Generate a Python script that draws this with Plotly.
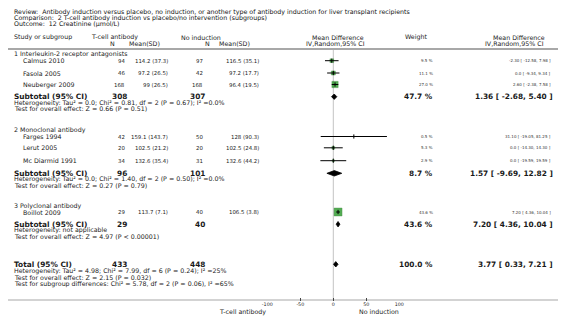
import plotly.graph_objects as go
import numpy as np

W, H = 566, 324
OFF = 8  # page body margin offset in the browser
FONT = "DejaVu Sans"

# ---------------- data ----------------
title_lines = [
    "Review:  Antibody induction versus placebo, no induction, or another type of antibody induction for liver transplant recipients",
    "Comparison:  2 T-cell antibody induction vs placebo/no intervention (subgroups)",
    "Outcome:  12 Creatinine (\u03bcmol/L)",
]
group_names = ["1 Interleukin-2 receptor antagonists", "2 Monoclonal antibody", "3 Polyclonal antibody"]
studies = ["Calmus 2010", "Fasola 2005", "Neuberger 2009", "Farges 1994", "Lerut 2005", "Mc Diarmid 1991", "Boillot 2009"]
study_group = [0, 0, 0, 1, 1, 1, 2]
t_n = [94, 46, 168, 42, 20, 34, 29]
t_mean_sd = ["114.2 (37.3)", "97.2 (26.5)", "99 (26.5)", "159.1 (143.7)", "102.5 (21.2)", "132.6 (35.4)", "113.7 (7.1)"]
c_n = [97, 42, 168, 50, 20, 31, 40]
c_mean_sd = ["116.5 (35.1)", "97.2 (17.7)", "96.4 (19.5)", "128 (90.3)", "102.5 (24.8)", "132.6 (44.2)", "106.5 (3.8)"]
weights = [9.5, 11.1, 27.0, 0.5, 5.3, 2.9, 43.6]
md = [-2.30, 0.0, 2.60, 31.10, 0.0, 0.0, 7.20]
lo = [-12.58, -9.34, -2.38, -19.05, -14.30, -19.59, 4.36]
hi = [7.98, 9.34, 7.58, 81.25, 14.30, 19.59, 10.04]

sub_t_n = [308, 96, 29]
sub_c_n = [307, 101, 40]
sub_w = [47.7, 8.7, 43.6]
sub_md = [1.36, 1.57, 7.20]
sub_lo = [-2.68, -9.69, 4.36]
sub_hi = [5.40, 12.82, 10.04]
sub_het = [
    "Heterogeneity: Tau\u00b2 = 0.0; Chi\u00b2 = 0.81, df = 2 (P = 0.67); I\u00b2 =0.0%",
    "Heterogeneity: Tau\u00b2 = 0.0; Chi\u00b2 = 1.40, df = 2 (P = 0.50); I\u00b2 =0.0%",
    "Heterogeneity: not applicable",
]
sub_test = [
    "Test for overall effect: Z = 0.66 (P = 0.51)",
    "Test for overall effect: Z = 0.27 (P = 0.79)",
    "Test for overall effect: Z = 4.97 (P < 0.00001)",
]
tot_t_n, tot_c_n, tot_w = 433, 448, 100.0
tot_md, tot_lo, tot_hi = 3.77, 0.33, 7.21
tot_lines = [
    "Heterogeneity: Tau\u00b2 = 4.98; Chi\u00b2 = 7.99, df = 6 (P = 0.24); I\u00b2 =25%",
    "Test for overall effect: Z = 2.15 (P = 0.032)",
    "Test for subgroup differences: Chi\u00b2 = 5.78, df = 2 (P = 0.06), I\u00b2 =65%",
]
tick_vals = [-100, -50, 0, 50, 100]
tick_text = ["-100", "-50", "0", "50", "100"]
axis_left_label = "T-cell antibody"
axis_right_label = "No induction"

# ---------------- layout positions (reference pixels) ----------------
title_y = [12.2, 18.1, 24.0]
header1_y, header2_y = 37.5, 43.5
rule_top_y, rule_bot_y = 49.0, 300.5
group_y = [54.3, 130.3, 206.0]
study_y = [60.7, 73.0, 84.5, 136.5, 147.8, 160.7, 212.0]
sub_y = [96.7, 173.3, 224.2]
het_y = [102.5, 179.2, 230.2]
test_y = [108.5, 185.0, 236.0]
total_y = 264.3
tot_lines_y = [270.6, 277.4, 284.0]

X_LEFT, X_STUDY = 13, 22
X_TN, X_TM, X_CN, X_CM = 125.5, 169.5, 203.5, 259.5
X_SUB_TN, X_SUB_CN = 127.5, 205.5
X_W, X_CI = 433.5, 551.5
X_SUB_W, X_SUB_CI = 433.5, 553.5
AX_L, AX_R = 267.3, 399.3

SMALL, DATA, TINY, BOLD = 6.3, 5.4, 4.0, 7.4
TXT = "#1a1a1a"


def fmt_md(v):
    return "0.0" if v == 0 else f"{v:.2f}"


def ci_text(m, l, h):
    return f"{fmt_md(m)} [ {l:.2f}, {h:.2f} ]"


def px(x):
    return (x - OFF) / W


def py(y):
    return 1 - (y - OFF) / H


ann = []


def text(s, x, y, size, anchor="left", bold=False, color=TXT):
    ann.append(dict(
        text=f"<b>{s}</b>" if bold else s,
        x=px(x), y=py(y), xref="paper", yref="paper",
        xanchor=anchor, yanchor="middle", showarrow=False,
        font=dict(family=FONT, size=size, color=color), borderpad=0,
    ))


# title
for s, y in zip(title_lines, title_y):
    text(s, X_LEFT, y, SMALL, color="#111")

# headers
text("Study or subgroup", X_LEFT, header1_y, SMALL)
text("T-cell antibody", 90, header1_y, SMALL)
text("No induction", 180, header1_y, SMALL)
text("N", 112, header2_y, SMALL, "center")
text("Mean(SD)", 128, header2_y, SMALL)
text("N", 207, header2_y, SMALL, "center")
text("Mean(SD)", 218, header2_y, SMALL)
text("Mean Difference", 338, header1_y, SMALL, "center")
text("IV,Random,95% CI", 335, header2_y, SMALL, "center")
text("Weight", 416, header1_y, SMALL, "center")
text("Mean Difference", 519, header1_y, SMALL, "center")
text("IV,Random,95% CI", 514, header2_y, SMALL, "center")

# groups
for g in range(3):
    text(group_names[g], X_LEFT, group_y[g], SMALL)
    text("Subtotal (95% CI)", X_LEFT, sub_y[g], BOLD, bold=True)
    text(str(sub_t_n[g]), X_SUB_TN, sub_y[g], BOLD, "right", bold=True)
    text(str(sub_c_n[g]), X_SUB_CN, sub_y[g], BOLD, "right", bold=True)
    text(f"{sub_w[g]:.1f} %", X_SUB_W, sub_y[g], BOLD, "right", bold=True)
    text(ci_text(sub_md[g], sub_lo[g], sub_hi[g]), X_SUB_CI, sub_y[g], BOLD, "right", bold=True)
    text(sub_het[g], X_LEFT, het_y[g], SMALL)
    text(sub_test[g], X_LEFT, test_y[g], SMALL)

# studies
for i, s in enumerate(studies):
    y = study_y[i]
    text(s, X_STUDY, y, SMALL)
    text(str(t_n[i]), X_TN, y, DATA, "right")
    text(t_mean_sd[i], X_TM, y, DATA, "right")
    text(str(c_n[i]), X_CN, y, DATA, "right")
    text(c_mean_sd[i], X_CM, y, DATA, "right")
    text(f"{weights[i]:.1f} %", X_W, y, TINY, "right", color="#333")
    text(ci_text(md[i], lo[i], hi[i]), X_CI, y, TINY, "right", color="#333")

# total
text("Total (95% CI)", X_LEFT, total_y, BOLD, bold=True)
text(str(tot_t_n), X_SUB_TN, total_y, BOLD, "right", bold=True)
text(str(tot_c_n), X_SUB_CN, total_y, BOLD, "right", bold=True)
text(f"{tot_w:.1f} %", X_SUB_W, total_y, BOLD, "right", bold=True)
text(ci_text(tot_md, tot_lo, tot_hi), X_SUB_CI, total_y, BOLD, "right", bold=True)
for s, y in zip(tot_lines, tot_lines_y):
    text(s, X_LEFT, y, SMALL)

# axis side labels
text(axis_left_label, 242, 311.7, SMALL, "center")
text(axis_right_label, 358.3, 311.7, SMALL, "left")

# ---------------- marks ----------------
fig = go.Figure()

# boxes (side proportional to sqrt of weight)
sizes = [1.21 * np.sqrt(w) for w in weights]
fig.add_trace(go.Scatter(x=md, y=study_y, mode="markers",
                         marker=dict(symbol="square", size=sizes, color="#0a8a0a",
                                     line=dict(color="#006000", width=0.4)),
                         hoverinfo="skip", cliponaxis=False))

# CI lines (drawn over the boxes)
cx, cy = [], []
for i in range(len(studies)):
    cx += [lo[i], hi[i], None]
    cy += [study_y[i], study_y[i], None]
fig.add_trace(go.Scatter(x=cx, y=cy, mode="lines", line=dict(color="#000", width=1),
                         hoverinfo="skip", cliponaxis=False))

# point tick
fig.add_trace(go.Scatter(x=md, y=study_y, mode="markers",
                         marker=dict(symbol="line-ns", size=3, line=dict(color="#000", width=1)),
                         hoverinfo="skip", cliponaxis=False))

# diamonds
DH = 2.7
for m, l, h, y in list(zip(sub_md, sub_lo, sub_hi, sub_y)) + [(tot_md, tot_lo, tot_hi, total_y)]:
    fig.add_trace(go.Scatter(x=[l, m, h, m, l], y=[y, y - DH, y, y + DH, y], mode="lines",
                             fill="toself", fillcolor="#000", line=dict(color="#000", width=0.8),
                             hoverinfo="skip", cliponaxis=False))

shapes = [
    dict(type="line", xref="x", yref="y", x0=0, x1=0, y0=rule_top_y, y1=rule_bot_y,
         line=dict(color="#c4c4c4", width=1), layer="below"),
    dict(type="line", xref="paper", yref="y", x0=0, x1=1, y0=rule_top_y, y1=rule_top_y,
         line=dict(color="#a8a8a8", width=2)),
    dict(type="line", xref="paper", yref="y", x0=0, x1=1, y0=rule_bot_y, y1=rule_bot_y,
         line=dict(color="#a8a8a8", width=2), layer="below"),
]

fig.update_layout(
    template="none",
    width=W, height=H, autosize=False,
    margin=dict(l=0, r=0, t=0, b=0, pad=0),
    paper_bgcolor="white", plot_bgcolor="rgba(0,0,0,0)",
    showlegend=False,
    xaxis=dict(domain=[px(AX_L), px(AX_R)], range=[-100, 100],
               tickvals=tick_vals, ticktext=tick_text,
               ticks="inside", ticklen=3, tickwidth=1, tickcolor="#444",
               showgrid=False, zeroline=False, showline=False,
               tickfont=dict(family=FONT, size=4.8, color="#222"), anchor="y"),
    yaxis=dict(domain=[py(rule_bot_y), 1], range=[rule_bot_y, OFF], visible=False),
    annotations=ann,
    shapes=shapes,
)

fig.write_html("out.html")
